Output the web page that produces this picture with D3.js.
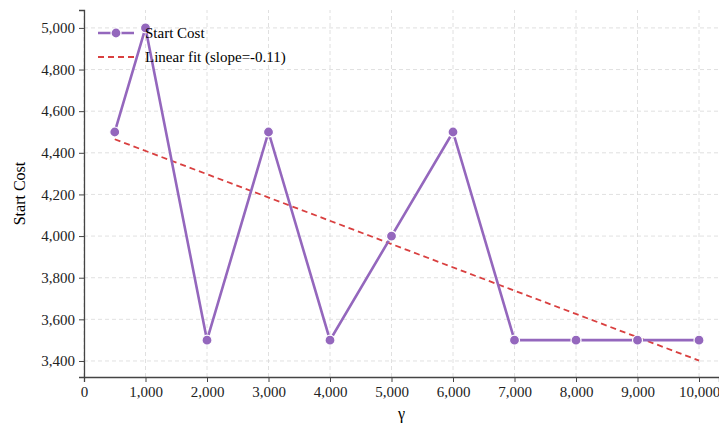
<!DOCTYPE html>
<html>
<head>
<meta charset="utf-8">
<script src="https://cdn.jsdelivr.net/npm/d3@7"></script>
<style>
  body { margin: 0; background: #fff; }
  svg { font-family: "Liberation Serif", "Times New Roman", serif; }
</style>
</head>
<body>
<svg id="chart" width="719" height="427"></svg>
<script>
const width = 719
const height = 427

// data
var gamma = [500, 1000, 2000, 3000, 4000, 5000, 6000, 7000, 8000, 9000, 10000]
var startCost = [4500, 5000, 3500, 4500, 3500, 4000, 4500, 3500, 3500, 3500, 3500]
var fitX = [500, 10000]
var fitY = [4465, 3402]
var xTicks = [0, 1000, 2000, 3000, 4000, 5000, 6000, 7000, 8000, 9000, 10000]
var yTicks = [3400, 3600, 3800, 4000, 4200, 4400, 4600, 4800, 5000]

var serif = "'Liberation Serif', 'Times New Roman', serif"
var margin = {left: 84, right: 0, top: 10, bottom: 50}
var svg = d3.select("#chart")

var x = d3.scaleLinear()
    .domain([0, 10325])
    .range([margin.left, width - margin.right])

var y = d3.scaleLinear()
    .domain([3323, 5086])
    .range([height - margin.bottom, margin.top])

var fmt = d3.format(",")

// grid
svg.append("g")
    .selectAll("line")
    .data(xTicks)
    .enter()
    .append("line")
    .attr("x1", d => x(d)).attr("x2", d => x(d))
    .attr("y1", y.range()[0]).attr("y2", y.range()[1])
    .attr("stroke", "#d8d8d8")
    .attr("stroke-dasharray", "4,3")
    .attr("stroke-width", 0.8)

svg.append("g")
    .selectAll("line")
    .data(yTicks)
    .enter()
    .append("line")
    .attr("x1", x.range()[0]).attr("x2", x.range()[1])
    .attr("y1", d => y(d)).attr("y2", d => y(d))
    .attr("stroke", "#d8d8d8")
    .attr("stroke-dasharray", "4,3")
    .attr("stroke-width", 0.8)

// axes
function styleAxis(g) {
    g.attr("font-family", serif).attr("font-size", 15)
    g.selectAll("text").style("font-family", serif).style("font-size", "15px").attr("fill", "#222")
    g.selectAll("line").attr("stroke", "#444")
    g.select(".domain").attr("stroke", "#444").attr("stroke-width", 1.3)
}

svg.append("g")
    .attr("transform", "translate(0," + (height - margin.bottom) + ")")
    .call(d3.axisBottom(x).tickValues(xTicks).tickFormat(fmt).tickSizeOuter(0).tickSize(5).tickPadding(4))
    .call(styleAxis)

svg.append("g")
    .attr("transform", "translate(" + margin.left + ",0)")
    .call(d3.axisLeft(y).tickValues(yTicks).tickFormat(fmt).tickSizeOuter(0).tickSize(5).tickPadding(4))
    .call(styleAxis)

// axis labels
svg.append("text")
    .attr("x", (x.range()[0] + x.range()[1]) / 2)
    .attr("y", 419)
    .attr("text-anchor", "middle")
    .style("font-size", "16px")
    .text("γ")

svg.append("text")
    .attr("transform", "translate(25," + ((y.range()[0] + y.range()[1]) / 2) + ")rotate(-90)")
    .attr("text-anchor", "middle")
    .style("font-size", "16px")
    .text("Start Cost")

// fit line
svg.append("path")
    .datum(fitX.map((d, i) => [d, fitY[i]]))
    .attr("fill", "none")
    .attr("stroke", "#d94040")
    .attr("stroke-width", 1.8)
    .attr("stroke-dasharray", "6,4")
    .attr("d", d3.line().x(d => x(d[0])).y(d => y(d[1])))

// main series
var pts = gamma.map((d, i) => [d, startCost[i]])
svg.append("path")
    .datum(pts)
    .attr("fill", "none")
    .attr("stroke", "#9467bd")
    .attr("stroke-width", 2.6)
    .attr("d", d3.line().x(d => x(d[0])).y(d => y(d[1])))

svg.append("g")
    .selectAll("circle")
    .data(pts)
    .enter()
    .append("circle")
    .attr("cx", d => x(d[0]))
    .attr("cy", d => y(d[1]))
    .attr("r", 5)
    .attr("fill", "#9467bd")
    .attr("stroke", "#fff")
    .attr("stroke-width", 1.2)

// legend
var leg = svg.append("g").attr("transform", "translate(98,33)")
leg.append("line")
    .attr("x1", 0).attr("x2", 36).attr("y1", 0).attr("y2", 0)
    .attr("stroke", "#9467bd").attr("stroke-width", 2.6)
leg.append("circle")
    .attr("cx", 18).attr("cy", 0).attr("r", 5)
    .attr("fill", "#9467bd").attr("stroke", "#fff").attr("stroke-width", 1.2)
leg.append("text")
    .attr("x", 47).attr("y", 5)
    .style("font-size", "15px")
    .text("Start Cost")
leg.append("line")
    .attr("x1", 0).attr("x2", 36).attr("y1", 24).attr("y2", 24)
    .attr("stroke", "#d94040").attr("stroke-width", 1.8)
    .attr("stroke-dasharray", "6,4")
leg.append("text")
    .attr("x", 47).attr("y", 29)
    .style("font-size", "15px")
    .text("Linear fit (slope=-0.11)")
</script>
</body>
</html>
